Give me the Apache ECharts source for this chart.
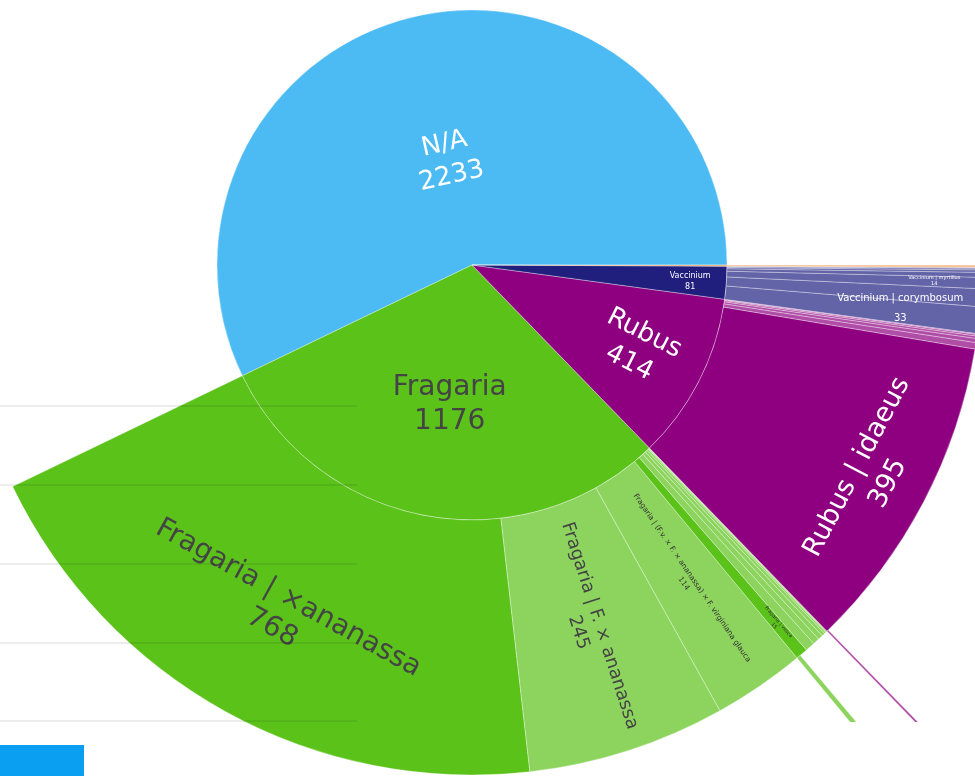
<!DOCTYPE html>
<html><head><meta charset="utf-8">
<script src="https://cdn.jsdelivr.net/npm/echarts@6/dist/echarts.min.js"></script>
<style>html,body{margin:0;padding:0;background:#fff}#c{width:975px;height:776px}</style>
</head><body><div id="c"></div>
<script>
// ---- data ----
const genera = ['N/A', 'Fragaria', 'Rubus', 'Vaccinium', 'Prunus'];
const generaValues = [2233, 1176, 414, 81, 3];

const fragariaNames = ['Fragaria | ×ananassa', 'Fragaria | F. × ananassa',
  'Fragaria | (F.v. × F. × ananassa) × F. virginiana glauca', 'Fragaria | vesca',
  'Fragaria | chiloensis', 'Fragaria | virginiana', 'Fragaria | moschata',
  'Fragaria | nilgerrensis', 'Fragaria | viridis', 'Fragaria | iinumae', 'Fragaria | nubicola'];
const fragariaValues = [768, 245, 114, 15, 12, 8, 6, 4, 2, 1, 1];

const rubusNames = ['Rubus | idaeus', 'Rubus | fruticosus', 'Rubus | occidentalis',
  'Rubus | ulmifolius', 'Rubus | caesius', 'Rubus | arcticus'];
const rubusValues = [395, 8, 5, 3, 2, 1];

const vacciniumNames = ['Vaccinium | corymbosum', 'Vaccinium | angustifolium', 'Vaccinium | myrtillus',
  'Vaccinium | macrocarpon', 'Vaccinium | vitis-idaea', 'Vaccinium | oxycoccos', 'Vaccinium | uliginosum'];
const vacciniumValues = [33, 22, 14, 6, 3, 2, 1];

const prunusNames = ['Prunus | avium'];
const prunusValues = [3];

// third level (only partly visible, cut off at the bottom)
const vescaNames = ['Fragaria | vesca | semperflorens'];
const vescaValues = [5];
const idaeusNames = ['Rubus | idaeus | Heritage'];
const idaeusValues = [2];

const childNames = { 'Fragaria': fragariaNames, 'Rubus': rubusNames, 'Vaccinium': vacciniumNames, 'Prunus': prunusNames,
  'Fragaria | vesca': vescaNames, 'Rubus | idaeus': idaeusNames };
const childValues = { 'Fragaria': fragariaValues, 'Rubus': rubusValues, 'Vaccinium': vacciniumValues, 'Prunus': prunusValues,
  'Fragaria | vesca': vescaValues, 'Rubus | idaeus': idaeusValues };

// ---- styles ----
const baseColors = { 'N/A': '#4cbbf4', 'Fragaria': '#5bc21a', 'Rubus': '#8e0080', 'Vaccinium': '#201f7d', 'Prunus': '#f0a060' };
const leafColors = { 'Fragaria': '#8dd45e', 'Rubus': '#b04da6', 'Vaccinium': '#6363a8', 'Prunus': '#f5c096' };
const fullColorChildren = ['Fragaria | ×ananassa', 'Fragaria | vesca', 'Rubus | idaeus'];

const FONT = 'DejaVu Sans';
const labelStyles = {
  'N/A': { fontSize: 26, lineHeight: 33, color: '#fff', rotate: 'tangential', padding: [40, 0, 0, 0] },
  'Fragaria': { fontSize: 28, lineHeight: 34, color: '#444', rotate: 0, padding: [28, 0, 0, 0] },
  'Rubus': { fontSize: 26, lineHeight: 33, color: '#fff', rotate: 'radial', padding: [0, 0, 0, 114] },
  'Vaccinium': { fontSize: 8, lineHeight: 11, color: '#fff', rotate: 0, padding: [16, 0, 0, 182] },
  'Fragaria | ×ananassa': { fontSize: 28, lineHeight: 34, color: '#444', rotate: 'tangential', padding: [30, 0, 0, 0] },
  'Fragaria | F. × ananassa': { fontSize: 18, lineHeight: 22, color: '#444', rotate: 'radial', padding: [0, 0, 0, 0] },
  'Fragaria | (F.v. × F. × ananassa) × F. virginiana glauca': { fontSize: 7.5, lineHeight: 10, color: '#333', rotate: 'radial', padding: [0, 0, 0, 0] },
  'Fragaria | vesca': { fontSize: 5, lineHeight: 6, color: '#333', rotate: 'radial', padding: [0, 0, 0, 176] },
  'Rubus | idaeus': { fontSize: 27, lineHeight: 35, color: '#fff', rotate: 'tangential', padding: [140, 0, 0, 0] },
  'Vaccinium | corymbosum': { fontSize: 10, lineHeight: 20, color: '#fff', rotate: 0, padding: [4, 0, 0, 96] },
  'Vaccinium | myrtillus': { fontSize: 5, lineHeight: 6, color: '#fff', rotate: 0, padding: [4, 0, 0, 160] }
};

function labelFor(name) {
  const s = labelStyles[name];
  if (!s) return { show: false };
  return {
    show: true, align: 'center', verticalAlign: 'middle',
    rotate: s.rotate, padding: s.padding,
    formatter: '{t|{b}}\n{t|{c}}',
    rich: { t: { fontFamily: FONT, fontSize: s.fontSize, lineHeight: s.lineHeight, color: s.color } }
  };
}

function buildNode(name, value, color, genus) {
  const node = { name: name, value: value, itemStyle: { color: color }, label: labelFor(name) };
  if (childNames[name]) {
    const g = genus || name;
    node.children = childNames[name].map((n, j) => buildNode(
      n, childValues[name][j],
      fullColorChildren.includes(n) ? baseColors[g] : leafColors[g], g));
  }
  return node;
}
const sunData = genera.map((g, i) => buildNode(g, generaValues[i], baseColors[g], null));

// decorative grid lines of the neighbouring panel
const gridTicks = [0, 1, 2, 3, 4];

const chart = echarts.init(document.getElementById('c'), null, { renderer: 'canvas' });
chart.setOption({
  animation: false,
  backgroundColor: '#fff',
  grid: { left: 0, top: 406, width: 357, height: 315, containLabel: false },
  xAxis: { type: 'value', show: false, min: 0, max: 1 },
  yAxis: {
    type: 'value', min: gridTicks[0], max: gridTicks[gridTicks.length - 1], interval: 1, z: 10,
    axisLine: { show: false }, axisTick: { show: false }, axisLabel: { show: false },
    splitLine: { show: true, lineStyle: { color: 'rgba(0,0,0,0.075)', width: 2 } }
  },
  graphic: [
    { type: 'rect', left: 0, top: 745, shape: { width: 84, height: 31 }, style: { fill: '#0a9ff0' }, z: 1 },
    { type: 'rect', left: 790, top: 722, shape: { width: 185, height: 54 }, style: { fill: '#fff' }, z: 100 }
  ],
  series: [
    { type: 'line', data: [], xAxisIndex: 0, yAxisIndex: 0 },
    {
      type: 'sunburst',
      center: [472, 265],
      startAngle: 0,
      clockwise: false,
      sort: null,
      nodeClick: false,
      emphasis: { disabled: true },
      itemStyle: { borderWidth: 0.6, borderColor: 'rgba(255,255,255,0.55)' },
      label: { show: false },
      levels: [{}, { r0: 0, r: 255 }, { r0: 255, r: 510 }, { r0: 510, r: 650 }],
      data: sunData
    }
  ]
});
</script></body></html>
